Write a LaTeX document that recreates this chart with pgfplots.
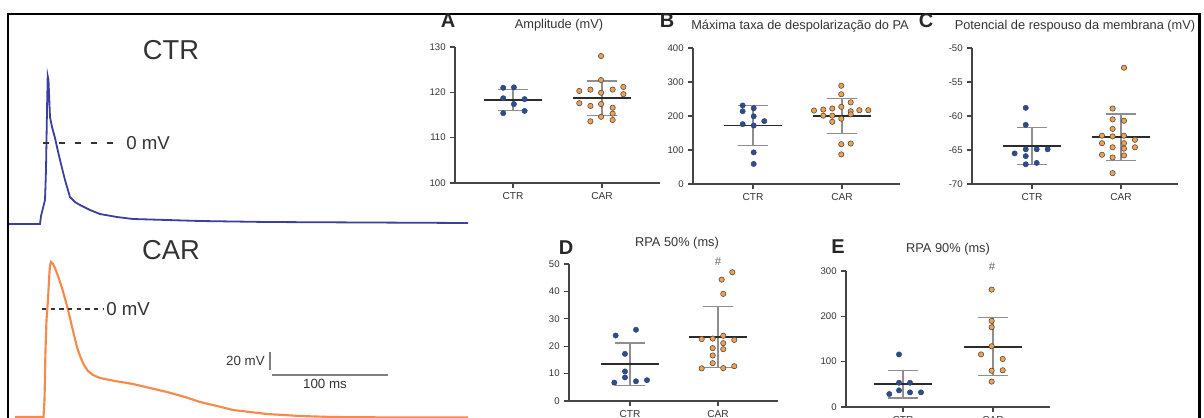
\documentclass[border=0pt]{standalone}
\usepackage{fontspec}
\setmainfont{Liberation Sans}
\usepackage{pgfplots}
\pgfplotsset{compat=1.18}

\definecolor{ctrblue}{HTML}{2E4C8E}
\definecolor{carorange}{HTML}{F5A04A}
\definecolor{tracectr}{HTML}{3B3F9E}
\definecolor{tracecar}{HTML}{F7894C}
\definecolor{axcol}{HTML}{454545}
\definecolor{txt}{HTML}{333333}
\definecolor{sdcol}{HTML}{8E8E8E}
\definecolor{meancol}{HTML}{2B2B2B}

\pgfplotsset{
  dotplot/.style={
    scale only axis, anchor=south west, clip=false,
    axis lines=left, axis line style={-, draw=axcol, line width=1.1pt},
    tick align=outside, major tick length=3.5pt,
    tick style={draw=axcol, line width=0.9pt},
    xtick={0,1}, xticklabels={CTR,CAR},
    yticklabel style={font=\fontsize{7.2}{8}\selectfont, text=txt},
    xticklabel style={font=\fontsize{7.6}{8}\selectfont, text=txt},
    /pgf/number format/assume math mode=true,
  },
  ctrdots/.style={only marks, mark=*, mark size=2pt,
    mark options={fill=ctrblue, draw=ctrblue!80!black, line width=0.3pt}},
  cardots/.style={only marks, mark=*, mark size=2pt,
    mark options={fill=carorange, draw=black!70, line width=0.45pt}},
  meansd/.style={only marks, mark=-, mark size=21.5pt,
    mark options={draw=meancol, line width=1.4pt},
    error bars/.cd, y dir=both, y explicit,
    error bar style={draw=sdcol, line width=0.9pt},
    error mark options={rotate=90, draw=sdcol, line width=0.9pt, mark size=11pt}},
}

\begin{document}
\begin{tikzpicture}

% traces (pixel coordinates of the figure)
\begin{axis}[at={(0pt,0pt)}, anchor=south west, scale only axis,
  width=903pt, height=313.5pt, xmin=0, xmax=1204, ymin=0, ymax=418,
  y dir=reverse, hide axis, clip=true]
\addplot[tracectr, line width=1.35pt] coordinates {
  (8,224) (40,224) (41,216) (42,212) (45,200) (46,170) (47,110) (47.7,76)
  (48.5,80) (50,117) (52,127) (55,138) (57,147) (60,160) (65,180) (70,197)
  (75,202) (80,205) (90,210) (100,214) (117,217) (133,219) (167,220)
  (200,221) (267,222) (367,222.5) (468,223)};
\addplot[tracecar, line width=1.6pt] coordinates {
  (15,417) (43.5,417) (44.5,400) (45.5,350) (46.5,320) (48,300) (49,280)
  (50,265) (51,262) (53,264) (55,268) (58,276) (62,288) (66,302) (70,318)
  (74,335) (77,347) (80,356) (84,365) (88,371) (93,375) (100,378) (115,381)
  (133,384) (150,388) (167,392) (185,397) (200,402) (217,406) (233,410)
  (250,412) (267,414) (300,416) (333,417) (400,417.5) (468,417.5)};
\draw[black, line width=1.6pt] (8,14) rectangle (1199.5,440);
\draw[txt, line width=0.8pt, dash pattern=on 4.5pt off 7.5pt] (43,143) -- (115,143);
\draw[txt, line width=0.8pt, dash pattern=on 3.3pt off 3.2pt] (42,309) -- (103,309);
\node[txt, font=\fontsize{20.5}{24}\selectfont] at (171,50) {CTR};
\node[txt, font=\fontsize{20.5}{24}\selectfont] at (171,250) {CAR};
\node[txt, anchor=west, inner sep=0, font=\fontsize{14}{16}\selectfont] at (126,143) {0 mV};
\node[txt, anchor=west, inner sep=0, font=\fontsize{14}{16}\selectfont] at (106,309) {0 mV};
\draw[gray, line width=0.8pt] (270,352) -- (270,370);
\draw[gray, line width=0.8pt] (272,375) -- (388,375);
\node[txt, anchor=east, inner sep=0, font=\fontsize{10}{12}\selectfont] at (265,361) {20 mV};
\node[txt, inner sep=0, font=\fontsize{10}{12}\selectfont] at (325,384) {100 ms};
% panel titles and letters
\node[txt, font=\fontsize{9.6}{11}\selectfont] at (559,25) {Amplitude (mV)};
\node[txt, font=\fontsize{9.6}{11}\selectfont] at (800,26) {Máxima taxa de despolarização do PA};
\node[txt, font=\fontsize{9.6}{11}\selectfont] at (1075,26) {Potencial de respouso da membrana (mV)};
\node[txt, font=\fontsize{9.6}{11}\selectfont] at (677,243) {RPA 50\% (ms)};
\node[txt, font=\fontsize{9.6}{11}\selectfont] at (948,249) {RPA 90\% (ms)};
\node[black!85, font=\fontsize{15}{17}\selectfont\bfseries] at (448,21) {A};
\node[black!85, font=\fontsize{15}{17}\selectfont\bfseries] at (667,21) {B};
\node[black!85, font=\fontsize{15}{17}\selectfont\bfseries] at (926,21) {C};
\node[black!85, font=\fontsize{15}{17}\selectfont\bfseries] at (566,248) {D};
\node[black!85, font=\fontsize{15}{17}\selectfont\bfseries] at (838,247) {E};
\node[black!60, font=\fontsize{8.5}{9}\selectfont] at (718,262) {\#};
\node[black!60, font=\fontsize{8.5}{9}\selectfont] at (992,267) {\#};
\end{axis}

% A: Amplitude
\begin{axis}[dotplot, at={(341.25pt,176.25pt)}, width=153.75pt, height=102pt,
  xmin=-0.652, xmax=1.652, ymin=100, ymax=130, ytick={100,110,120,130}]
\addplot[meansd] coordinates {(0,118.3) +- (0,2.3) (1,118.7) +- (0,3.8)};
\addplot[ctrdots] coordinates {
  (-0.11,121.0) (0.01,121.1) (-0.11,118.7) (0.13,118.5) (0.01,117.4)
  (-0.11,115.4) (0.13,115.9)};
\addplot[cardots] coordinates {
  (0.99,128.0) (0.99,122.7) (0.745,120.3) (0.87,120.6) (0.99,119.9)
  (1.12,120.6) (1.24,121.2) (1.24,119.6) (0.745,117.6) (0.87,117.0)
  (0.99,117.4) (1.12,116.6) (1.12,115.3) (0.99,114.6) (0.87,113.6)
  (1.12,113.9)};
\end{axis}

% B: max depolarisation rate
\begin{axis}[dotplot, at={(519.75pt,175.5pt)}, width=155.25pt, height=102pt,
  xmin=-0.674, xmax=1.652, ymin=0, ymax=400, ytick={0,100,200,300,400}]
\addplot[meansd] coordinates {(0,172) +- (0,59) (1,200) +- (0,51)};
\addplot[ctrdots] coordinates {
  (-0.116,231) (0.008,223) (-0.116,214) (0.008,199) (0.127,185)
  (-0.116,176) (0.008,172) (0.008,93) (0.008,59)};
\addplot[cardots] coordinates {
  (0.992,289) (0.992,264) (1.098,240) (0.685,216) (0.79,219) (0.891,222)
  (0.992,227) (1.098,214) (1.195,217) (1.296,217) (0.79,201) (0.891,201)
  (1.098,205) (0.891,183) (0.992,192) (0.992,117) (1.098,119) (0.992,87)};
\end{axis}

% C: resting membrane potential
\begin{axis}[dotplot, at={(729pt,175.5pt)}, width=154.5pt, height=102pt,
  xmin=-0.674, xmax=1.641, ymin=-70, ymax=-50, ytick={-70,-65,-60,-55,-50}]
\addplot[meansd] coordinates {(0,-64.4) +- (0,2.7) (1,-63.1) +- (0,3.4)};
\addplot[ctrdots] coordinates {
  (-0.07,-58.8) (-0.07,-61.3) (-0.195,-65.5) (-0.07,-64.9) (0.053,-64.9)
  (0.176,-64.9) (-0.07,-65.9) (-0.07,-67.1) (0.053,-66.9)};
\addplot[cardots] coordinates {
  (1.034,-52.9) (0.906,-58.9) (0.906,-60.5) (1.034,-60.7) (0.906,-61.9)
  (0.787,-62.9) (0.906,-63.0) (1.034,-62.9) (1.157,-63.5) (0.787,-64.0)
  (1.034,-64.0) (0.906,-64.6) (1.034,-64.8) (1.157,-64.6) (0.787,-65.7)
  (0.906,-66.1) (1.034,-65.8) (0.906,-68.4)};
\end{axis}

% D: RPA 50%
\begin{axis}[dotplot, at={(426.75pt,12.75pt)}, width=156.75pt, height=102.75pt,
  xmin=-0.693, xmax=1.682, ymin=0, ymax=50, ytick={0,10,20,30,40,50}]
\addplot[meansd] coordinates {(0,13.5) +- (0,7.7) (1,23.3) +- (0,11.2)};
\addplot[ctrdots] coordinates {
  (0.068,26.0) (-0.163,23.9) (-0.057,17.2) (-0.057,10.8) (-0.057,8.6)
  (-0.178,6.7) (0.068,7.2) (0.193,7.6)};
\addplot[cardots] coordinates {
  (1.163,47.0) (1.042,44.3) (1.06,39.1) (0.815,22.6) (0.94,22.8)
  (1.06,23.8) (1.185,22.3) (1.06,21.1) (0.94,19.3) (1.06,18.9)
  (0.94,16.6) (0.94,13.8) (0.815,11.9) (1.06,12.0) (1.185,12.7)};
\end{axis}

% E: RPA 90%
\begin{axis}[dotplot, at={(634.5pt,8.25pt)}, width=153pt, height=102pt,
  xmin=-0.633, xmax=1.633, ymin=0, ymax=300, ytick={0,100,200,300}]
\addplot[meansd] coordinates {(0,50.5) +- (0,30.8) (1,133) +- (0,64)};
\addplot[ctrdots] coordinates {
  (-0.044,116) (-0.152,28.6) (-0.044,53.5) (0.078,53.5) (-0.044,36.7)
  (0.078,32.3) (0.2,32.3)};
\addplot[cardots] coordinates {
  (0.985,259) (0.985,190) (0.985,176) (0.985,134) (0.867,116) (1.108,106)
  (0.985,80) (1.108,81) (0.985,56)};
\end{axis}

\pgfresetboundingbox
\useasboundingbox (0pt,0pt) rectangle (903pt,313.5pt);
\end{tikzpicture}
\end{document}
